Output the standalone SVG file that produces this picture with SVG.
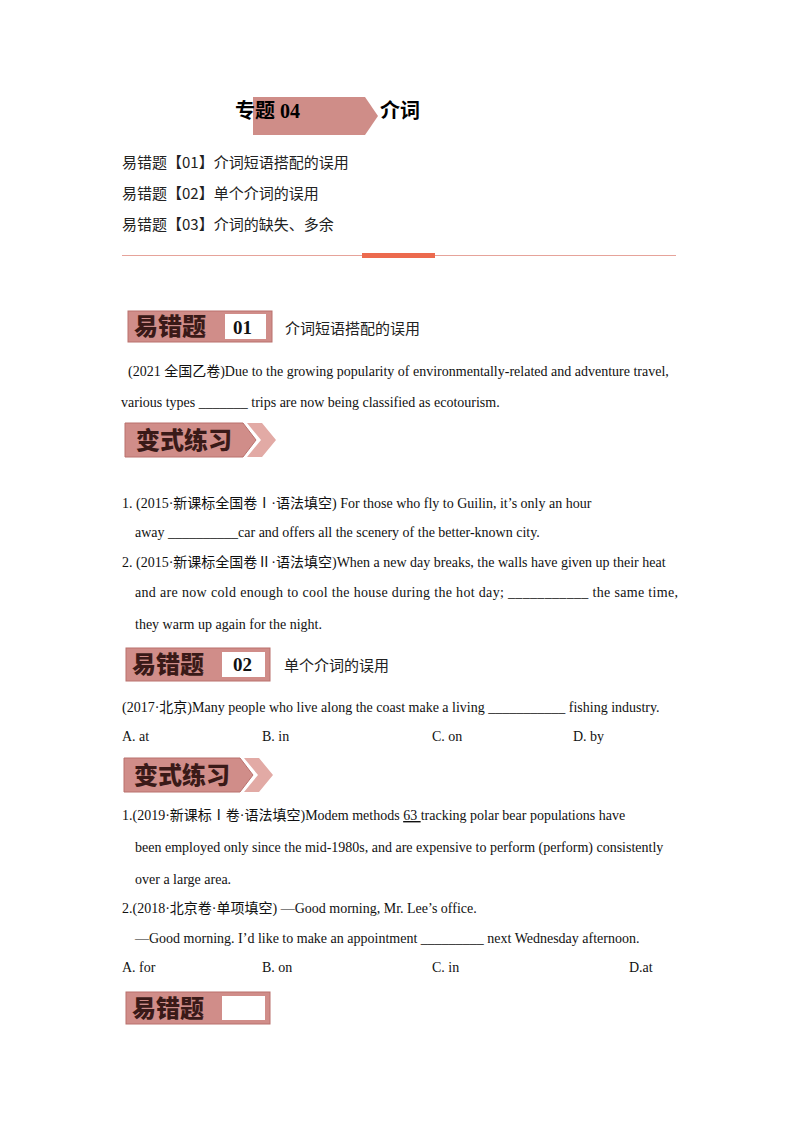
<svg xmlns="http://www.w3.org/2000/svg" width="800" height="1132" viewBox="0 0 800 1132">
<style>
.t{font-family:"Liberation Serif","Noto Sans CJK SC",serif;font-size:14px;fill:#111}
.c{font-family:"Noto Sans CJK SC",sans-serif;font-size:15px;fill:#222}
.b{fill:#d08d89;stroke:#b9706c;stroke-width:1}
.bw{font-family:"Noto Sans CJK SC",serif;font-weight:900;font-size:24px;fill:#3a1a18}
.bx{fill:#fff}
.num{font-family:"Liberation Serif",serif;font-weight:bold;font-size:19px;fill:#111}
</style>
<rect width="800" height="1132" fill="#fff"/>
<g id="title">
<path d="M253 97 H365 L378 116 L365 135 H253 Z" fill="#cf8d88"/>
<text x="235" y="118" font-family="Liberation Serif,Noto Sans CJK SC,serif" font-weight="bold" font-size="20">专题 04</text>
<text x="380" y="118" font-family="Noto Sans CJK SC,sans-serif" font-weight="bold" font-size="20">介词</text>
</g>
<g id="toc" class="c">
<text x="122" y="168">易错题【01】介词短语搭配的误用</text>
<text x="122" y="199">易错题【02】单个介词的误用</text>
<text x="122" y="230">易错题【03】介词的缺失、多余</text>
</g>
<g id="divider">
<line x1="122" y1="255.5" x2="676" y2="255.5" stroke="#e6a39a" stroke-width="1"/>
<rect x="362" y="253" width="73" height="5" fill="#ec6a4e"/>
</g>
<g id="sec1">
<rect class="b" x="128" y="311" width="144" height="31"/>
<rect class="bx" x="225" y="314" width="41" height="25"/>
<text class="bw" x="134" y="335">易错题</text>
<text class="num" x="233" y="334">01</text>
<text class="c" x="285" y="334">介词短语搭配的误用</text>
</g>
<g id="q1" class="t">
<text x="128" y="376">(2021 全国乙卷)Due to the growing popularity of environmentally-related and adventure travel,</text>
<text x="121" y="407">various types _______ trips are now being classified as ecotourism.</text>
</g>
<g id="var1">
<path class="b" d="M125 423 H243 L256 440 L243 457 H125 Z"/>
<path d="M247 423 H262 L276 440 L262 457 H247 L261 440 Z" fill="#e2aaa5"/>
<text class="bw" x="136" y="449" font-size="20">变式练习</text>
</g>
<g id="q2" class="t">
<text x="122" y="508">1.  (2015·新课标全国卷Ⅰ·语法填空) For those who fly to Guilin, it’s only an hour</text>
<text x="135" y="537">away  __________car and offers all the scenery of the better-known city.</text>
<text x="122" y="567">2.  (2015·新课标全国卷Ⅱ·语法填空)When a new day breaks, the walls have given up their heat</text>
<text x="135" y="597" textLength="543" lengthAdjust="spacing">and are now cold enough to cool the house during the hot day;  ___________  the same time,</text>
<text x="135" y="629">they warm up again for the night.</text>
</g>
<g id="sec2">
<rect class="b" x="126" y="648" width="144" height="33"/>
<rect class="bx" x="222" y="652" width="43" height="25"/>
<text class="bw" x="132" y="673">易错题</text>
<text class="num" x="233" y="671">02</text>
<text class="c" x="284" y="671">单个介词的误用</text>
</g>
<g id="q3" class="t">
<text x="122" y="712">(2017·北京)Many people who live along the coast make a living ___________ fishing industry.</text>
<text x="122" y="741">A. at</text><text x="262" y="741">B. in</text><text x="432" y="741">C. on</text><text x="573" y="741">D. by</text>
</g>
<g id="var2">
<path class="b" d="M124 758 H240 L253 775 L240 792 H124 Z"/>
<path d="M244 758 H259 L273 775 L259 792 H244 L258 775 Z" fill="#e2aaa5"/>
<text class="bw" x="134" y="784" font-size="20">变式练习</text>
</g>
<g id="q4" class="t">
<text x="122" y="820">1.(2019·新课标Ⅰ卷·语法填空)Modem methods  <tspan text-decoration="underline">   63    </tspan>  tracking polar bear populations have</text>
<text x="135" y="852">been employed only since the mid-1980s, and are expensive to perform    (perform) consistently</text>
<text x="135" y="884">over a large area.</text>
<text x="122" y="913">2.(2018·北京卷·单项填空)  —Good morning, Mr. Lee’s office.</text>
<text x="135" y="943">—Good morning. I’d like to make an appointment _________ next Wednesday afternoon.</text>
<text x="122" y="972">A.  for</text><text x="262" y="972">B.  on</text><text x="432" y="972">C.  in</text><text x="629" y="972">D.at</text>
</g>
<g id="sec3">
<rect class="b" x="126" y="992" width="144" height="32"/>
<rect class="bx" x="222" y="996" width="43" height="24"/>
<text class="bw" x="132" y="1017">易错题</text>
</g>
</svg>
